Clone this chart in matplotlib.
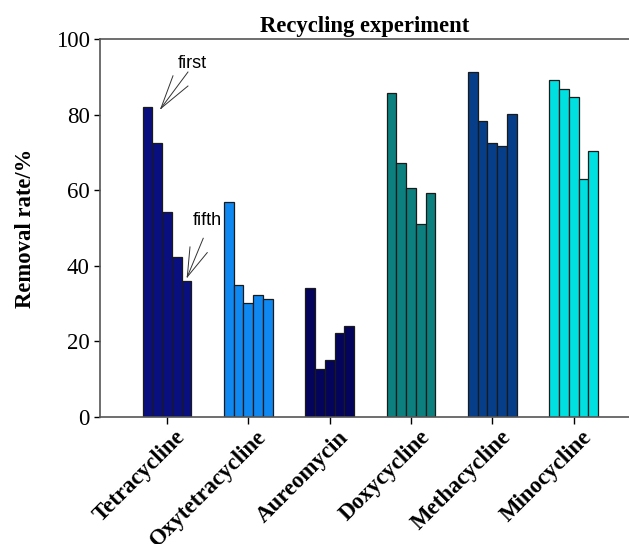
import numpy as np
import matplotlib
matplotlib.use('Agg')
import matplotlib.pyplot as plt
import matplotlib.transforms as mtransforms

drugs = ['Tetracycline', 'Oxytetracycline', 'Aureomycin',
         'Doxycycline', 'Methacycline', 'Minocycline']
# removal rate (%) for cycles 1-5
tetracycline = [82.1, 72.4, 54.3, 42.4, 36.0]
oxytetracycline = [56.9, 34.9, 30.3, 32.4, 31.3]
aureomycin = [34.1, 12.8, 15.1, 22.1, 24.2]
doxycycline = [85.8, 67.2, 60.7, 51.2, 59.3]
methacycline = [91.2, 78.3, 72.5, 71.7, 80.1]
minocycline = [89.3, 86.9, 84.8, 62.9, 70.4]
colors = ['#0a0f80', '#1088f2', '#04045c', '#0b807e', '#063e8a', '#00e0e0']

values = [tetracycline, oxytetracycline, aureomycin,
          doxycycline, methacycline, minocycline]

plt.rcParams['font.family'] = 'Liberation Serif'

fig = plt.figure(figsize=(6.29, 5.44), dpi=100)
ax = fig.add_axes([0.159, 0.2335, 0.841, 0.6945])

bw = 0.12
x = np.arange(len(drugs))
for i, (vals, c) in enumerate(zip(values, colors)):
    offs = (np.arange(5) - 2) * bw
    ax.bar(x[i] + offs, vals, width=bw, color=c, edgecolor='#1a1a1a', linewidth=0.9)

ax.set_xlim(-0.823, 5.68)
ax.set_ylim(0, 100)
ax.set_yticks([0, 20, 40, 60, 80, 100])
ax.tick_params(axis='y', labelsize=16.5, direction='out', length=4, width=1)
ax.tick_params(axis='x', direction='out', length=5, width=1)
ax.set_xticks(x)
ax.set_xticklabels(drugs, rotation=45, ha='right', va='top',
                   rotation_mode='anchor', fontsize=16.5, fontweight='bold')
offset = mtransforms.ScaledTranslation(8 / 100, 2 / 100, fig.dpi_scale_trans)
for lab in ax.get_xticklabels():
    lab.set_transform(lab.get_transform() + offset)

ax.spines['right'].set_visible(False)
for s in ['left', 'bottom', 'top']:
    ax.spines[s].set_color('#555555')
    ax.spines[s].set_linewidth(1.2)

ax.set_ylabel('Removal rate/%', fontsize=16.3, fontweight='bold', labelpad=14)
ax.set_title('Recycling experiment', fontsize=16.3, fontweight='bold', pad=5)

# annotation arrows
lc = '#333333'
for tip in [(0.074, 90.3), (0.258, 91.3), (0.258, 87.6)]:
    ax.plot([-0.074, tip[0]], [81.7, tip[1]], color=lc, lw=0.7)
ax.text(0.31, 93.5, 'first', family='Liberation Sans', fontsize=13, ha='center', va='center')
for tip in [(0.283, 45.0), (0.446, 47.3), (0.495, 43.5)]:
    ax.plot([0.25, tip[0]], [37.1, tip[1]], color=lc, lw=0.7)
ax.text(0.49, 51.9, 'fifth', family='Liberation Sans', fontsize=13, ha='center', va='center')

fig.savefig('out.png', dpi=100)
